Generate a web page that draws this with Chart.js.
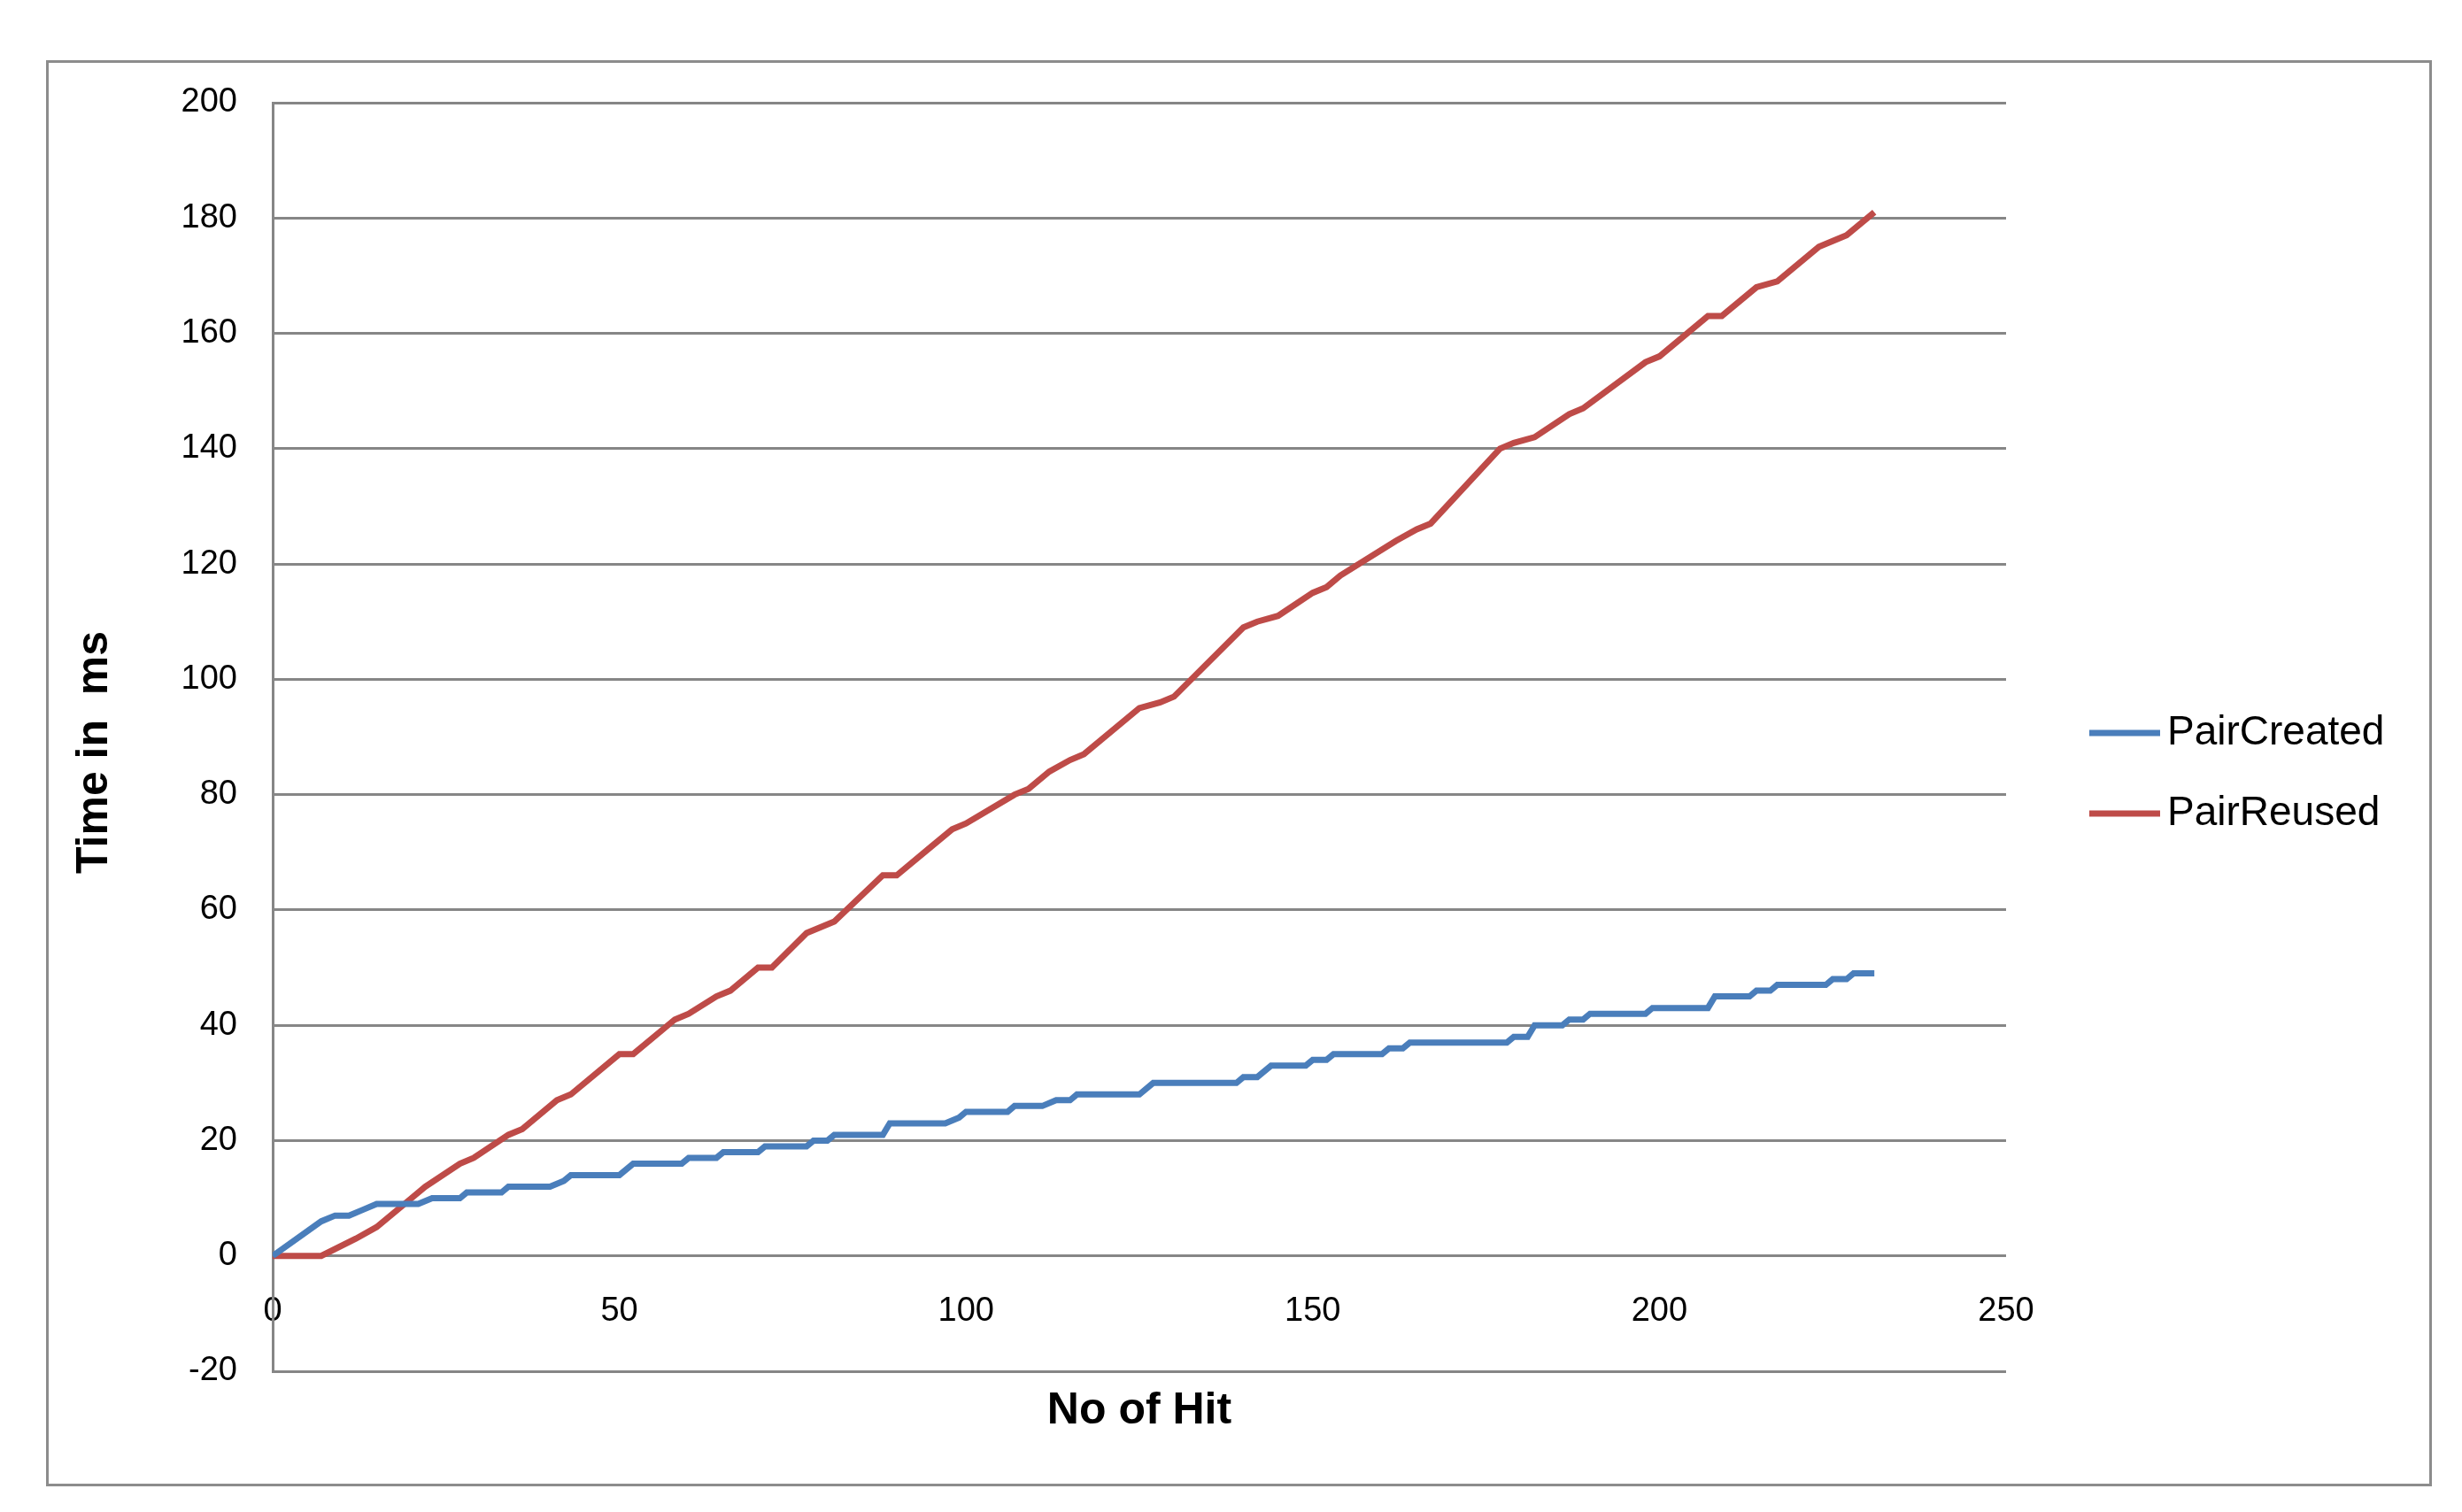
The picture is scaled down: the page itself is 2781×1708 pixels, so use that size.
<!DOCTYPE html>
<html><head><meta charset="utf-8">
<script src="https://cdn.jsdelivr.net/npm/chart.js@4"></script>
<style>
html,body{margin:0;padding:0;background:#fff;}
#wrap{position:absolute;left:0;top:0;width:2781px;height:1708px;}
#frame{position:absolute;left:52px;top:68px;width:2695px;height:1611px;border:3px solid #8c8c8c;box-sizing:border-box;}
</style></head><body>
<div id="wrap"><div id="frame"></div><canvas id="c" width="2781" height="1708"></canvas></div>
<script>
const seriesNames = ["PairCreated", "PairReused"];
const createdX = [0,7,9,11,13,15,21,23,27,28,33,34,40,42,43,50,52,59,60,64,65,70,71,77,78,80,81,88,89,97,99,100,106,107,111,113,115,116,125,127,139,140,142,144,149,150,152,153,160,161,163,164,178,179,181,182,186,187,189,190,198,199,207,208,213,214,216,217,224,225,227,228,231];
const createdY = [0,6,7,7,8,9,9,10,10,11,11,12,12,13,14,14,16,16,17,17,18,18,19,19,20,20,21,21,23,23,24,25,25,26,26,27,27,28,28,30,30,31,31,33,33,34,34,35,35,36,36,37,37,38,38,40,40,41,41,42,42,43,43,45,45,46,46,47,47,48,48,49,49];
const reusedX = [0,7,12,15,20,22,27,29,34,36,41,43,50,52,58,60,64,66,70,72,77,79,81,88,90,95,98,100,107,109,112,115,117,125,128,130,140,142,145,150,152,154,162,165,167,177,179,182,187,189,198,200,207,209,214,217,223,225,227,231];
const reusedY = [0,0,3,5,10,12,16,17,21,22,27,28,35,35,41,42,45,46,50,50,56,57,58,66,66,71,74,75,80,81,84,86,87,95,96,97,109,110,111,115,116,118,124,126,127,140,141,142,146,147,155,156,163,163,168,169,175,176,177,181];
const xTicks = [0,50,100,150,200,250];
const yTicks = [-20,0,20,40,60,80,100,120,140,160,180,200];
const colors = ["#4A7EBB", "#BE4B48"];
const FONT = "'Liberation Sans', 'DejaVu Sans', sans-serif";

function pts(xs, ys){ return xs.map((x,i)=>({x:x,y:ys[i]})); }

const overlay = {
  id:'overlay',
  afterDraw(chart){
    const ctx = chart.ctx, a = chart.chartArea;
    ctx.save();
    ctx.fillStyle = '#000';
    ctx.font = 'bold 50px ' + FONT;
    ctx.textAlign = 'center'; ctx.textBaseline = 'middle';
    ctx.fillText('No of Hit', (a.left + a.right)/2, 1594);
    ctx.translate(107, 850); ctx.rotate(-Math.PI/2);
    ctx.fillText('Time in  ms', 0, 0);
    ctx.restore();
    ctx.save();
    ctx.font = '46px ' + FONT;
    ctx.textBaseline = 'middle'; ctx.textAlign = 'left';
    const ly = [828, 919];
    seriesNames.forEach((n,i)=>{
      ctx.strokeStyle = colors[i]; ctx.lineWidth = 7;
      ctx.beginPath(); ctx.moveTo(2360, ly[i]); ctx.lineTo(2440, ly[i]); ctx.stroke();
      ctx.fillStyle = '#000'; ctx.fillText(n, 2448, ly[i]);
    });
    ctx.restore();
  }
};

new Chart(document.getElementById('c'), {
  type:'line',
  data:{datasets:[
    {label:seriesNames[0], data:pts(createdX, createdY), borderColor:colors[0], borderWidth:7, pointRadius:0, tension:0, fill:false},
    {label:seriesNames[1], data:pts(reusedX, reusedY), borderColor:colors[1], borderWidth:7, pointRadius:0, tension:0, fill:false}
  ]},
  options:{
    responsive:false, animation:false,
    layout:{padding:{left:0, top:116, right:515, bottom:159}},
    plugins:{legend:{display:false}, tooltip:{enabled:false}},
    scales:{
      x:{type:'linear', min:0, max:250, position:{y:0},
         afterBuildTicks(s){ s.ticks = xTicks.map(v=>({value:v})); },
         grid:{display:false, drawTicks:false},
         border:{display:false},
         ticks:{font:{size:38, family:FONT}, color:'#000', padding:40, maxRotation:0}},
      y:{type:'linear', min:-20, max:200,
         afterBuildTicks(s){ s.ticks = yTicks.map(v=>({value:v})); },
         afterFit(s){ s.width = 308; },
         grid:{color:'#868686', lineWidth:3, drawTicks:false},
         border:{display:true, color:'#868686', width:3},
         ticks:{font:{size:38, family:FONT}, color:'#000', padding:40}}
    }
  },
  plugins:[overlay]
});
</script></body></html>
